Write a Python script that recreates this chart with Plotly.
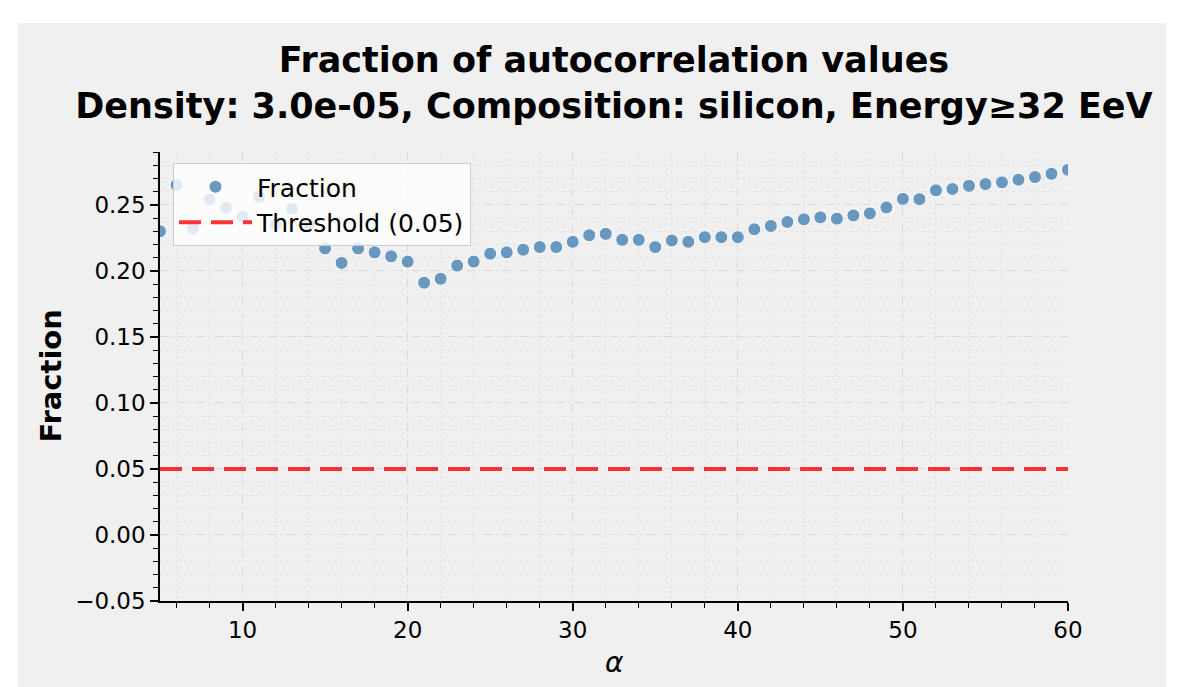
import plotly.graph_objects as go

alpha = list(range(5, 61))
fraction = [
    0.230, 0.265, 0.232, 0.254, 0.248, 0.241, 0.256, 0.235, 0.247, 0.235,
    0.217, 0.206, 0.217, 0.214, 0.211, 0.207, 0.191, 0.194, 0.204, 0.207,
    0.213, 0.214, 0.216, 0.218, 0.218, 0.222, 0.227, 0.228, 0.2235, 0.2235,
    0.218, 0.223, 0.222, 0.2255, 0.2255, 0.2255, 0.2315, 0.234, 0.237, 0.239,
    0.2405, 0.2395, 0.242, 0.2435, 0.248, 0.2545, 0.2543, 0.261, 0.262, 0.2644,
    0.2657, 0.267, 0.269, 0.271, 0.2735, 0.2765,
]
threshold = 0.05
y_ticks = [-0.05, 0.00, 0.05, 0.10, 0.15, 0.20, 0.25]
x_ticks = [10, 20, 30, 40, 50, 60]

title_lines = ["Fraction of autocorrelation values",
               "Density: 3.0e-05, Composition: silicon, Energy≥32 EeV"]

W, H = 1179, 687
OFF = 8  # page body margin
L, R, T, B = 160 - OFF, 1068 - OFF, 152 - OFF, 601 - OFF

fig = go.Figure()
fig.add_trace(go.Scatter(
    x=alpha, y=fraction, mode="markers", name="Fraction",
    marker=dict(size=13, color="rgba(70,130,180,0.8)",
                line=dict(color="white", width=1)),
))
fig.add_trace(go.Scatter(
    x=[min(alpha), max(alpha)], y=[threshold, threshold], mode="lines",
    name=f"Threshold ({threshold:.2f})",
    line=dict(color="rgba(255,0,0,0.8)", width=4, dash="22px,10px"),
))

pw, ph = R - L, B - T
# gray figure area with white border
fig.add_shape(type="rect", xref="paper", yref="paper", layer="below",
              x0=(18 - OFF - L) / pw, x1=(1166 - OFF - L) / pw,
              y0=(B - H) / ph, y1=(B - (23 - OFF)) / ph,
              fillcolor="#f0f0f0", line=dict(width=0))

fig.add_annotation(text="<b>Fraction</b>", xref="paper", yref="paper",
                   x=(50 - OFF - L) / pw, y=0.5, textangle=-90, showarrow=False,
                   font=dict(family="DejaVu Sans", size=29, color="black"),
                   xanchor="center", yanchor="middle")
fig.add_annotation(text="<i>α</i>", xref="paper", yref="paper",
                   x=0.5, y=-(662 - OFF - B) / ph, showarrow=False,
                   font=dict(family="DejaVu Sans", size=28, color="black"),
                   xanchor="center", yanchor="middle")

axis_common = dict(
    showline=True, linecolor="black", linewidth=1.5,
    ticks="outside", ticklen=8, tickwidth=1.5, tickcolor="black",
    showgrid=True, gridcolor="#d9d9d9", griddash="dash", gridwidth=1,
    zeroline=False, mirror=False,
    tickfont=dict(family="DejaVu Sans", size=23, color="black"),
)
fig.update_xaxes(
    range=[5, 60], tickvals=x_ticks, **axis_common,
    minor=dict(dtick=2, ticks="outside", ticklen=5, tickwidth=1,
               tickcolor="black", showgrid=True, gridcolor="#e4e4e4",
               griddash="dot"),
)
fig.update_yaxes(
    range=[-0.05, 0.29], tickvals=y_ticks, tickformat=".2f", **axis_common,
    minor=dict(dtick=0.01, tick0=0, ticks="outside", ticklen=5, tickwidth=1,
               tickcolor="black", showgrid=True, gridcolor="#e4e4e4",
               griddash="dot"),
)

fig.update_layout(
    width=W, height=H,
    margin=dict(l=L, r=W - R, t=T, b=H - B, pad=0),
    paper_bgcolor="white", plot_bgcolor="#f0f0f0",
    title=dict(text="<b>" + "<br>".join(title_lines) + "</b>",
               x=0.5, xref="paper", y=1 - (72 - OFF) / H, yref="container",
               xanchor="center", yanchor="middle",
               font=dict(family="DejaVu Sans", size=35, color="black")),
    legend=dict(x=(173 - OFF - L) / pw, y=(B - (163 - OFF)) / ph,
                xanchor="left", yanchor="top",
                bgcolor="rgba(255,255,255,0.8)", bordercolor="#cccccc",
                borderwidth=1, itemwidth=73,
                font=dict(family="DejaVu Sans", size=25, color="black")),
    showlegend=True,
)

fig.write_html("out.html")
